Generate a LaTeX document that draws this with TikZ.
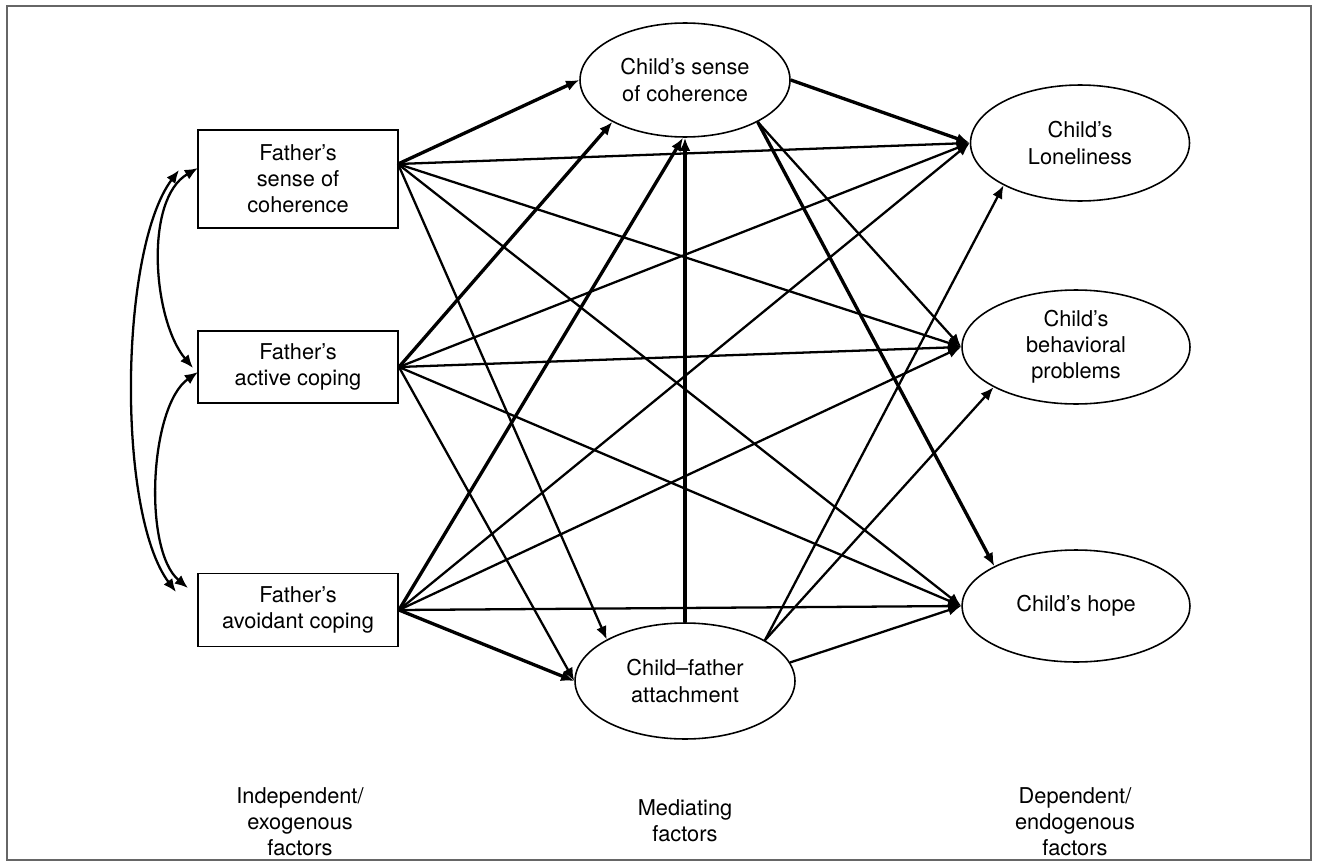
\documentclass[tikz,border=0pt]{standalone}
\usepackage{fontspec}
\setmainfont{TeX Gyre Heros}
\usetikzlibrary{shapes.geometric,arrows.meta}
\tikzset{
  caixa/.style={draw, line width=1.1pt, minimum width=4cm, align=center, inner sep=0pt},
  elipse/.style={draw, ellipse, line width=0.9pt, inner sep=0pt, align=center},
  seta/.style={-{Latex[length=7.5pt,width=6.2pt]}, line width=1.3pt},
  forte/.style={seta, line width=1.9pt},
  dupla/.style={{Latex[length=7.5pt,width=6.2pt]}-{Latex[length=7.5pt,width=6.2pt]}, line width=1.3pt},
  rotulo/.style={align=center, inner sep=0pt}
}
\begin{document}
\begin{tikzpicture}[x=0.02cm, y=-0.02cm, font=\fontsize{12.4}{14.9}\selectfont]
    \useasboundingbox (0,0) rectangle (1318,865); % area total
    \draw[black!60, line width=1.3pt] (7,6) rectangle (1311,860); % moldura

    % pais
    \node[caixa, minimum height=1.96cm] (FS) at (298,179) {Father’s\\sense of\\coherence};
    \node[caixa, minimum height=1.44cm] (FA) at (298,367) {Father’s\\active coping};
    \node[caixa, minimum height=1.46cm] (FV) at (298,610) {Father’s\\avoidant coping};
    \coordinate (fs) at (398,164); % saida das setas

    % mediadores
    \node[elipse, minimum width=4.2cm, minimum height=2.28cm] (CSC) at (685,80) {Child’s sense\\of coherence};
    \node[elipse, minimum width=4.4cm, minimum height=2.32cm] (CFA) at (685,681) {Child–father\\attachment};

    % dependentes
    \node[elipse, minimum width=4.38cm, minimum height=2.32cm] (CL) at (1080,143) {Child’s\\Loneliness};
    \node[elipse, minimum width=4.56cm, minimum height=2.28cm] (CB) at (1076,347) {Child’s\\behavioral\\problems};
    \node[elipse, minimum width=4.56cm, minimum height=2.24cm] (CH) at (1076,606) {Child’s hope};

    % rotulos de baixo
    \node[rotulo] (lab1) at (300,822) {Independent/\\exogenous\\factors};
    \node[rotulo] (lab2) at (685,821) {Mediating\\factors};
    \node[rotulo] (lab3) at (1075,822) {Dependent/\\endogenous\\factors};

    % correlacoes
    \coordinate (a1) at (198,168);
    \coordinate (a2) at (193,368);
    \coordinate (b1) at (198,372);
    \coordinate (b2) at (188,588);
    \coordinate (c1) at (179,170);
    \coordinate (c2) at (176,592);
    \draw[dupla] (a1) to[out=210, in=130, looseness=0.8] (a2);
    \draw[dupla] (b1) to[out=215, in=140, looseness=0.7] (b2);
    \draw[dupla] (c1) to[out=233, in=127, looseness=0.6] (c2);

    % coerencia do pai
    \draw[forte] (fs) -- (CSC.west);
    \draw[seta] (fs) -- (CL.west);
    \draw[seta] (fs) -- (CB.west);
    \draw[seta] (fs) -- (CH.west);
    \draw[seta] (fs) -- (CFA.152);
    % coping ativo
    \draw[forte] (FA.east) -- (CSC.210);
    \draw[seta] (FA.east) -- (CL.west);
    \draw[seta] (FA.east) -- (CB.west);
    \draw[seta] (FA.east) -- (CH.west);
    \draw[seta] (FA.east) -- (CFA.west);
    % coping evitativo
    \draw[forte] (FV.east) -- (CSC.268);
    \draw[seta] (FV.east) -- (CL.west);
    \draw[seta] (FV.east) -- (CB.west);
    \draw[seta] (FV.east) -- (CH.west);
    \draw[forte] (FV.east) -- (CFA.west);
    % mediadores
    \draw[forte] (CFA.north) -- (CSC.south);
    \draw[forte] (CSC.east) -- (CL.west);
    \draw[seta] (CSC.330) -- (CB.west);
    \draw[forte] (CSC.330) -- (CH.154);
    \draw[seta] (CFA.27) -- (CL.209);
    \draw[seta] (CFA.27) -- (CB.206);
    \draw[seta] (CFA.10) -- (CH.west);
\end{tikzpicture}
\end{document}
